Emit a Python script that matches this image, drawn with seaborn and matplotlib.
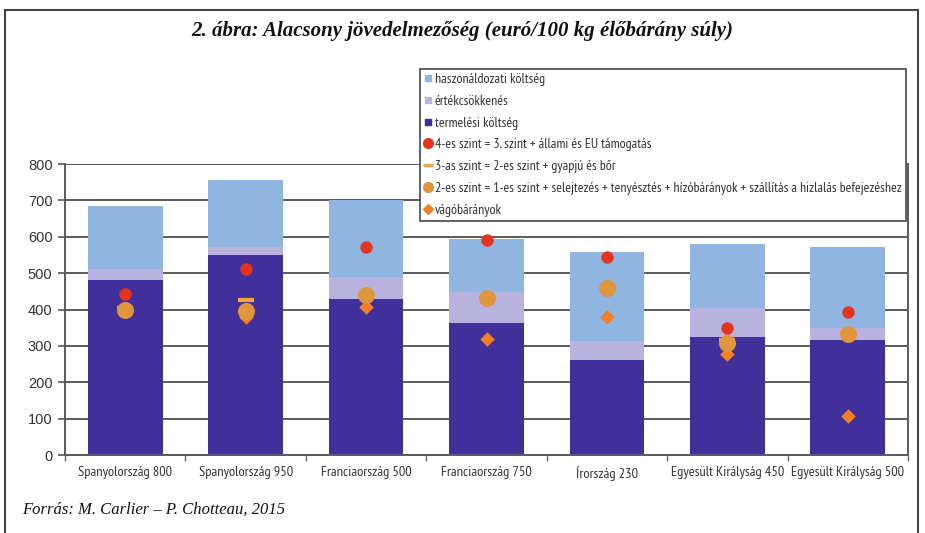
import numpy as np
import pandas as pd
import matplotlib
matplotlib.use("Agg")
import matplotlib.pyplot as plt
import seaborn as sns
from matplotlib.patches import Rectangle
from matplotlib.lines import Line2D
from matplotlib import font_manager

categories = ["Spanyolország 800", "Spanyolország 950", "Franciaország 500",
              "Franciaország 750", "Írország 230", "Egyesült Királyság 450",
              "Egyesült Királyság 500"]
termelesi = [481, 551, 430, 363, 261, 325, 316]
ertekcsokkenes = [29, 21, 60, 85, 52, 78, 32]
haszonaldozati = [175, 183, 212, 147, 246, 177, 224]
szint4 = [444, 510, 572, 590, 543, 348, 394]
szint3 = [405, 426, 440, 435, 460, 315, 335]
szint2 = [400, 396, 440, 433, 458, 308, 332]
vagobaranyok = [398, 380, 406, 319, 380, 278, 107]
yticks = [0, 100, 200, 300, 400, 500, 600, 700, 800]

legend_labels = ["haszonáldozati költség", "értékcsökkenés", "termelési költség",
                 "4-es szint = 3. szint + állami és EU támogatás",
                 "3-as szint = 2-es szint + gyapjú és bőr",
                 "2-es szint = 1-es szint + selejtezés + tenyésztés + hízóbárányok + szállítás a hizlalás befejezéshez",
                 "vágóbárányok"]

c_dark = "#42309a"
c_lav = "#b8b2de"
c_light = "#8fb5e0"
c_red = "#e4341f"
c_dash = "#f3a63a"
c_circ = "#e0963c"
c_diam = "#f07f26"

sns.set_theme(style="white")

# choose a condensed sans font if one is installed, else fall back
available = {f.name for f in font_manager.fontManager.ttflist}
cond_family = "Liberation Sans"
for cand in ["PT Sans Narrow", "Fira Sans Condensed", "Roboto Condensed",
             "Open Sans Condensed", "Liberation Sans Narrow", "Arial Narrow"]:
    if cand in available:
        cond_family = cand
        break
fam = [cond_family, "DejaVu Sans"]
plt.rcParams['font.family'] = fam

fig = plt.figure(figsize=(9.25, 5.33), dpi=100)
renderer = fig.canvas.get_renderer()


def measure(text, size):
    t = fig.text(0, 0, text, fontsize=size, family=fam)
    bb = t.get_window_extent(renderer)
    t.remove()
    return bb.width, bb.height


def fit_size(text, target_px, base=10.0, cap=10.0):
    w, _ = measure(text, base)
    return min(cap, base * target_px / w)


leg_fs = fit_size(legend_labels[5], 468, cap=10.5)
tick_fs = fit_size(categories[-1], 114, cap=10.5)

df = pd.DataFrame({"cat": categories,
                   "prod": termelesi,
                   "dep": ertekcsokkenes,
                   "opp": haszonaldozati})
df["lvl2"] = df["prod"] + df["dep"]
df["lvl3"] = df["lvl2"] + df["opp"]

ax = fig.add_axes([0.0703, 0.1463, 0.9816 - 0.0703, 0.6923 - 0.1463])

for col, colr in [("lvl3", c_light), ("lvl2", c_lav), ("prod", c_dark)]:
    sns.barplot(data=df, x="cat", y=col, color=colr, width=0.62, ax=ax,
                saturation=1, linewidth=0, zorder=2, errorbar=None)

mk = pd.DataFrame({"cat": categories, "s4": szint4, "s3": szint3,
                   "s2": szint2, "vb": vagobaranyok})
sns.scatterplot(data=mk, x="cat", y="vb", marker="D", s=55, color=c_diam,
                linewidth=0, ax=ax, zorder=3)
sns.scatterplot(data=mk, x="cat", y="s3", marker="_", s=120, color=c_dash,
                linewidth=3, ax=ax, zorder=4)
sns.scatterplot(data=mk, x="cat", y="s2", marker="o", s=150, color=c_circ,
                linewidth=0, ax=ax, zorder=5)
sns.scatterplot(data=mk, x="cat", y="s4", marker="o", s=80, color=c_red,
                linewidth=0, ax=ax, zorder=6)

ax.set_xlim(-0.5, 6.5)
ax.set_ylim(0, 800)
ax.set_yticks(yticks)
ax.set_yticklabels([str(v) for v in yticks], family=["Liberation Sans", "DejaVu Sans"],
                   fontsize=10.5, color="#333333")
ax.yaxis.grid(True, color="#5a5a5a", linewidth=1.4, zorder=0)
ax.set_axisbelow(True)
ax.set_xlabel("")
ax.set_ylabel("")
ax.set_xticks(range(len(categories)))
ax.set_xticklabels(categories, fontsize=tick_fs, color="#333333", family=fam)
ax.tick_params(axis="x", which="major", length=0, pad=8)
ax.set_xticks(np.arange(-0.5, 7.0, 1.0), minor=True)
ax.tick_params(axis="x", which="minor", length=4, width=1, color="#666666",
               direction="out", bottom=True)
ax.tick_params(axis="y", length=5, width=1.2, color="#5a5a5a", left=True,
               direction="out", pad=4)
for side in ["left", "bottom", "right"]:
    ax.spines[side].set_visible(True)
    ax.spines[side].set_color("#5a5a5a")
    ax.spines[side].set_linewidth(1.4)
ax.spines["top"].set_visible(False)
if ax.get_legend() is not None:
    ax.get_legend().remove()

handles = [
    Line2D([], [], marker="s", linestyle="", color=c_light, markersize=5),
    Line2D([], [], marker="s", linestyle="", color=c_lav, markersize=5),
    Line2D([], [], marker="s", linestyle="", color=c_dark, markersize=5),
    Line2D([], [], marker="o", linestyle="", color=c_red, markersize=7),
    Line2D([], [], marker="_", linestyle="", color=c_dash, markersize=7,
           markeredgewidth=2.5),
    Line2D([], [], marker="o", linestyle="", color=c_circ, markersize=7),
    Line2D([], [], marker="D", linestyle="", color=c_diam, markersize=5),
]
fs_px = leg_fs * 100 / 72
_, row_h = measure("Áy", leg_fs)
ls = max(0.2, (23.8 - row_h) / fs_px)
leg = fig.legend(handles, legend_labels, loc="upper left",
                 bbox_to_anchor=(0.454, 0.871), frameon=True, fancybox=False,
                 framealpha=1, edgecolor="#555555",
                 prop={"size": leg_fs, "family": fam},
                 handlelength=0.5, handletextpad=0.25, labelspacing=ls,
                 borderpad=0.3, borderaxespad=0)
leg.get_frame().set_linewidth(1.3)
leg.set_zorder(20)
for t in leg.get_texts():
    t.set_color("#333333")

fig.text(0.5, 1 - 31 / 533, "2. ábra: Alacsony jövedelmezőség (euró/100 kg élőbárány súly)",
         ha="center", va="center", family=["Liberation Serif", "DejaVu Serif"],
         weight="bold", style="italic", fontsize=15, color="#111111")
fig.text(22 / 925, 1 - 510 / 533, "Forrás: M. Carlier – P. Chotteau, 2015",
         ha="left", va="center", family=["Liberation Serif", "DejaVu Serif"],
         style="italic", fontsize=12, color="#111111")

frame = Rectangle((5 / 925, -0.1), (918 - 5) / 925, 1.1 - 10 / 533,
                  transform=fig.transFigure, fill=False, edgecolor="#444444",
                  linewidth=1.5, clip_on=False)
fig.patches.append(frame)

fig.savefig("out.png", dpi=100)
